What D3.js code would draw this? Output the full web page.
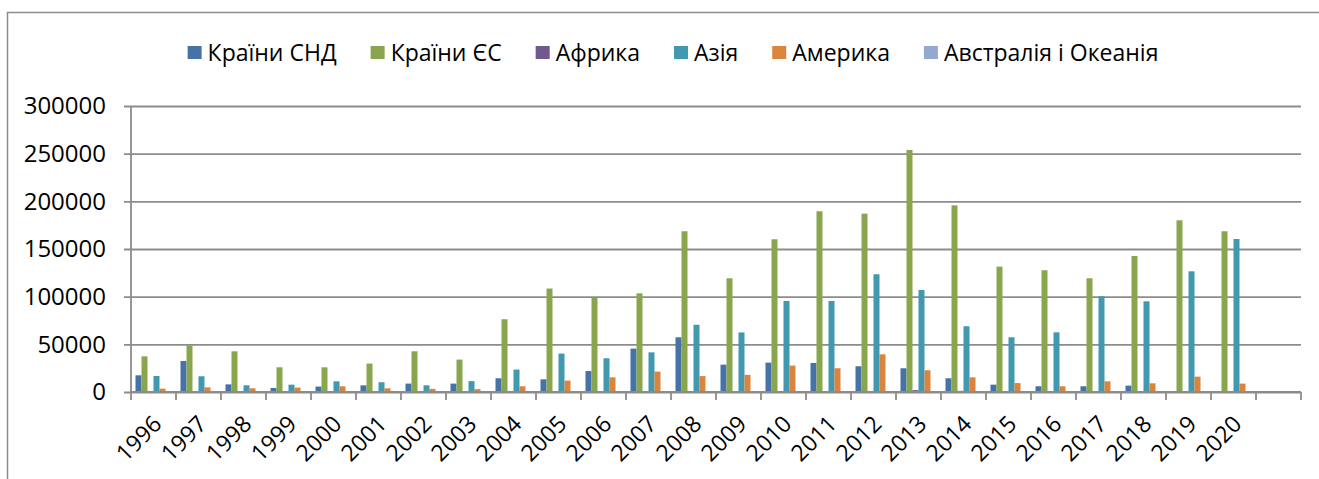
<!DOCTYPE html>
<html>
<head>
<meta charset="utf-8">
<script src="https://cdn.jsdelivr.net/npm/d3@7"></script>
<style>
  body { margin: 0; background: #fff; }
  text { font-family: 'Open Sans', 'Noto Sans', sans-serif; fill: #000; }
</style>
</head>
<body>
<div id="chart"></div>
<script>
// categories (last slot is empty on the original chart)
var years = ['1996', '1997', '1998', '1999', '2000', '2001', '2002', '2003', '2004',
  '2005', '2006', '2007', '2008', '2009', '2010', '2011', '2012', '2013', '2014',
  '2015', '2016', '2017', '2018', '2019', '2020', ''];

var seriesNames = ['Країни СНД', 'Країни ЄС', 'Африка', 'Азія', 'Америка', 'Австралія і Океанія'];
var seriesColors = ['#4572a7', '#89a54e', '#71588f', '#4198af', '#db843d', '#93a9cf'];

var cis = [17500, 32500, 8000, 4200, 5700, 7000, 8800, 8800, 14400, 13300, 22000, 45500,
  57400, 28700, 30800, 30400, 27000, 24900, 14400, 7700, 6000, 6000, 6700, 0, 0];
var eu = [37400, 49000, 42700, 25900, 25900, 29800, 42700, 34000, 76300, 108500, 99000, 103500,
  168600, 119300, 160200, 189600, 187100, 253900, 195800, 131500, 127700, 119300, 142700, 180100, 168600];
var africa = [0, 0, 0, 0, 0, 0, 0, 0, 0, 0, 0, 0,
  0, 0, 0, 0, 0, 2000, 1200, 0, 0, 0, 0, 0, 0];
var asia = [16800, 16500, 7000, 7700, 11200, 10200, 7000, 11400, 23500, 40300, 35400, 41600,
  70500, 62500, 95500, 95500, 123500, 107000, 69000, 57400, 62600, 100400, 95100, 126600, 160500];
var america = [3500, 4900, 3900, 4600, 6000, 3900, 3300, 3000, 6000, 12000, 15400, 21400,
  16700, 18000, 27700, 24900, 39500, 22800, 15400, 9400, 6000, 11200, 9100, 16100, 8800];
var oceania = [0, 0, 0, 0, 0, 0, 0, 0, 0, 0, 0, 0,
  0, 1000, 0, 0, 0, 0, 0, 0, 0, 0, 0, 0, 0];

var yTicks = [0, 50000, 100000, 150000, 200000, 250000, 300000];

var allSeries = [cis, eu, africa, asia, america, oceania];

var W = 1319, H = 479;
var plot = { left: 131, right: 1301, top: 106, bottom: 392 };

var svg = d3.select('#chart').append('svg').
attr('width', W).
attr('height', H);

// outer frame (top and left edges visible)
svg.append('path').
attr('d', 'M7.5,479 L7.5,12.5 L1319,12.5').
attr('fill', 'none').
attr('stroke', '#8c8c8c').
attr('stroke-width', 1.5);

var x0 = d3.scaleBand().domain(years).range([plot.left, plot.right]).padding(0);
var x1 = d3.scaleBand().domain(d3.range(seriesNames.length)).
range([x0.bandwidth() * 0.1, x0.bandwidth() * 0.9]).padding(0);
var y = d3.scaleLinear().domain([0, 300000]).range([plot.bottom, plot.top]);

//gridlines + y labels
var yAxis = d3.axisLeft(y).tickValues(yTicks).tickSize(-(plot.right - plot.left + 7)).tickFormat(d3.format('d'));
var gy = svg.append('g').
attr('transform', 'translate(' + (plot.left - 7) + ',0)').
call(yAxis);
gy.select('.domain').remove();
gy.selectAll('.tick line').
attr('stroke', '#8c8c8c').
attr('stroke-width', 1.8);
gy.selectAll('.tick text').
attr('x', -18).
style('font-size', '24px');

// y axis line
svg.append('line').
attr('x1', plot.left).attr('x2', plot.left).
attr('y1', plot.top).attr('y2', plot.bottom).
attr('stroke', '#8c8c8c').
attr('stroke-width', 1.8);

// bars
allSeries.forEach(function (vals, si) {
  svg.append('g').selectAll('rect').
  data(vals).
  enter().
  append('rect').
  attr('x', function (d, i) {return x0(years[i]) + x1(si);}).
  attr('y', function (d) {return y(d);}).
  attr('width', x1.bandwidth()).
  attr('height', function (d) {return y(0) - y(d);}).
  attr('fill', seriesColors[si]);
});

// x axis with ticks at category boundaries
var xAxisLine = svg.append('g');
xAxisLine.append('line').
attr('x1', plot.left).attr('x2', plot.right).
attr('y1', plot.bottom).attr('y2', plot.bottom).
attr('stroke', '#8c8c8c').
attr('stroke-width', 1.8);
xAxisLine.selectAll('.bound').
data(years.concat(['__end'])).
enter().
append('line').
attr('x1', function (d, i) {return plot.left + x0.step() * i;}).
attr('x2', function (d, i) {return plot.left + x0.step() * i;}).
attr('y1', plot.bottom).
attr('y2', plot.bottom + 8).
attr('stroke', '#8c8c8c').
attr('stroke-width', 1.8);

xAxisLine.selectAll('.xlab').
data(years).
enter().
append('text').
attr('transform', function (d) {
  return 'translate(' + (x0(d) + x0.bandwidth() / 2 - 2) + ',' + (plot.bottom + 22) + ') rotate(-45)';
}).
attr('text-anchor', 'end').
attr('dy', '0.71em').
style('font-size', '23px').
text(function (d) {return d;});

// legend
var legend = svg.append('g');
var items = legend.selectAll('g').
data(seriesNames).
enter().
append('g');
items.append('rect').
attr('width', 14).
attr('height', 13).
attr('y', 46).
attr('fill', function (d, i) {return seriesColors[i];});
items.append('text').
attr('x', 20).
attr('y', 61).
style('font-size', '23px').
text(function (d) {return d;});

var cursor = 0;
items.each(function () {
  var w = d3.select(this).select('text').node().getComputedTextLength();
  this._w = 20 + w;
});
var total = 0;
items.each(function (d, i) {total += this._w + (i > 0 ? 34 : 0);});
cursor = 673 - total / 2;
items.attr('transform', function () {
  var t = 'translate(' + cursor + ',0)';
  cursor += this._w + 34;
  return t;
});
</script>
</body>
</html>
